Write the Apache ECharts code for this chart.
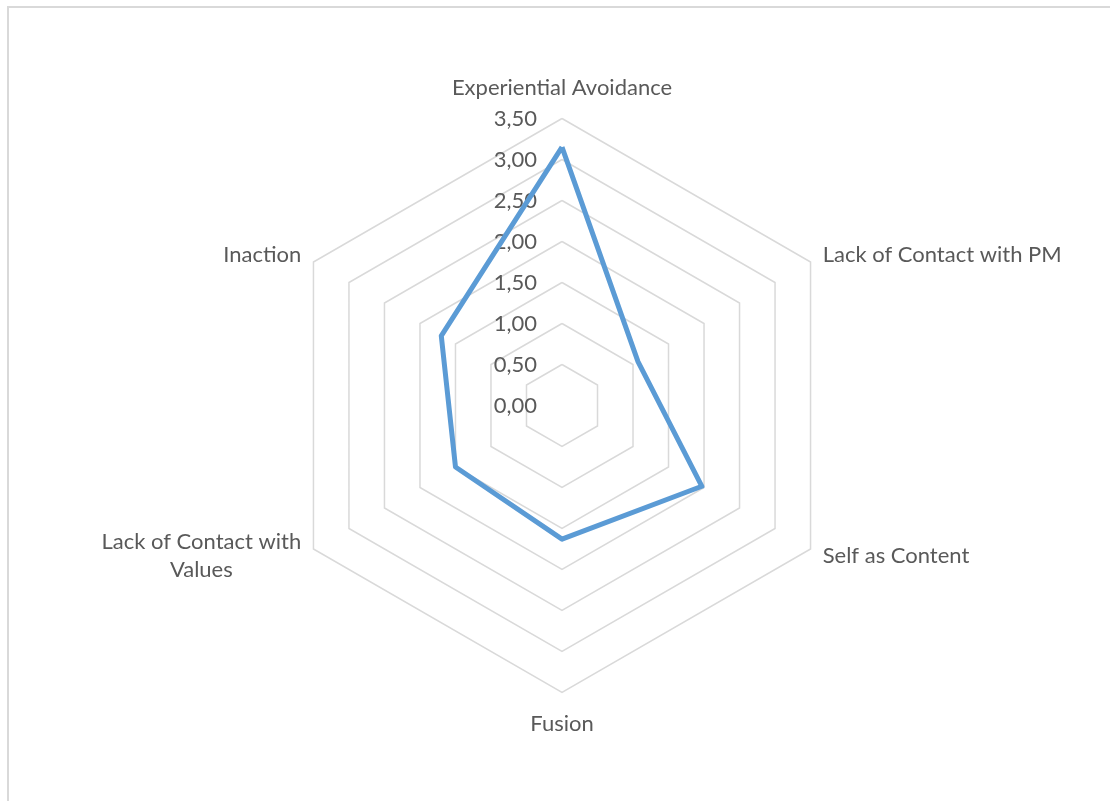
<!DOCTYPE html>
<html>
<head>
<meta charset="utf-8">
<title>Radar chart</title>
<script src="https://cdn.jsdelivr.net/npm/echarts@6/dist/echarts.min.js"></script>
<style>
  html, body { margin: 0; padding: 0; background: #ffffff; }
  #chart { position: absolute; left: 0; top: 0; width: 1110px; height: 801px; }
  #frame {
    position: absolute; left: 7px; top: 6px; width: 1200px; height: 900px;
    border-top: 2px solid #d9d9d9; border-left: 2px solid #d9d9d9;
    pointer-events: none;
  }
</style>
</head>
<body>
<div id="frame"></div>
<div id="chart"></div>
<script>
// Dimensions, listed clockwise starting from the top
const categories = [
  'Experiential Avoidance',
  'Lack of Contact with PM',
  'Self as Content',
  'Fusion',
  'Lack of Contact with Values',
  'Inaction'
];
// Mean score for each dimension (same order as categories)
const scores = [3.15, 1.07, 1.97, 1.63, 1.50, 1.70];
// Radial scale
const scaleMin = 0;
const scaleMax = 3.5;
const scaleStep = 0.5;

const textColor = '#595959';
const fontFamily = 'Lato, "Open Sans", sans-serif';
const fontSize = 22;

// ECharts lays indicators out counter-clockwise, so keep the first one
// on top and reverse the rest to run clockwise.
const order = [0].concat(categories.map((_, i) => i).slice(1).reverse());

const indicators = order.map((i, k) => ({
  name: categories[i],
  min: scaleMin,
  max: scaleMax,
  axisLabel: { show: k === 0 }
}));
const values = order.map(i => scores[i]);

const chart = echarts.init(document.getElementById('chart'), null, { renderer: 'canvas' });

chart.setOption({
  animation: false,
  backgroundColor: 'transparent',
  radar: {
    center: [562, 405.5],
    radius: 287,
    startAngle: 90,
    shape: 'polygon',
    splitNumber: Math.round((scaleMax - scaleMin) / scaleStep),
    indicator: indicators,
    nameGap: 14,
    axisName: {
      color: textColor,
      fontFamily: fontFamily,
      fontSize: fontSize,
      lineHeight: 28,
      padding: [3, 0, 3, 0],
      formatter: function (name) {
        if (name === 'Lack of Contact with Values') {
          return '{w|Lack of Contact with}\n{w|Values}';
        }
        return name;
      },
      rich: {
        w: {
          color: textColor,
          fontFamily: fontFamily,
          fontSize: fontSize,
          lineHeight: 28,
          width: 200,
          align: 'center'
        }
      }
    },
    axisLine: { show: false },
    axisTick: { show: false },
    axisLabel: {
      show: false,
      color: textColor,
      fontFamily: fontFamily,
      fontSize: fontSize,
      margin: 25,
      formatter: function (v) { return v.toFixed(2).replace('.', ','); }
    },
    splitLine: { lineStyle: { color: '#d9d9d9', width: 1.5 } },
    splitArea: { show: false }
  },
  series: [{
    type: 'radar',
    symbol: 'none',
    lineStyle: { color: '#5b9bd5', width: 5 },
    itemStyle: { color: '#5b9bd5' },
    data: [{ value: values, name: 'Scores' }]
  }]
});
</script>
</body>
</html>
